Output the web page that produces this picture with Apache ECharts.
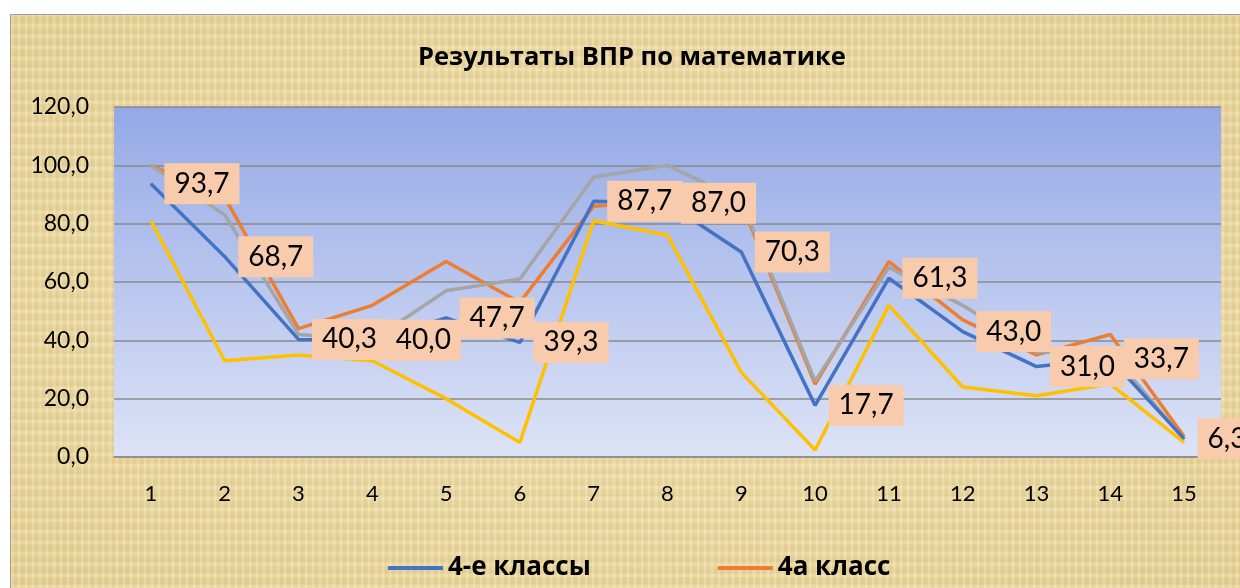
<!DOCTYPE html>
<html>
<head>
<meta charset="utf-8">
<script src="https://cdn.jsdelivr.net/npm/echarts@6/dist/echarts.min.js"></script>
<style>
  html, body { margin: 0; padding: 0; background: #ffffff; }
  #c {
    position: absolute; left: 10px; top: 14px; width: 1230px; height: 574px;
    border-top: 1px solid #a09c94; border-left: 1px solid #a09c94; box-sizing: border-box;
    background-color: #e7d39c;
    background-image:
      repeating-linear-gradient(90deg, rgba(255,245,210,0.25) 0px, rgba(255,245,210,0.25) 2px, rgba(190,160,90,0.10) 3px, rgba(255,245,210,0) 7px),
      repeating-linear-gradient(0deg, rgba(255,248,220,0.22) 0px, rgba(255,248,220,0.22) 3px, rgba(180,150,80,0.10) 4px, rgba(255,248,220,0) 11px),
      radial-gradient(ellipse at 50% 50%, #efdfae 0%, #e4cf94 100%);
  }
</style>
</head>
<body>
<div id="c"></div>
<script>
const categories = ['1','2','3','4','5','6','7','8','9','10','11','12','13','14','15'];
const yTicks = [0, 20, 40, 60, 80, 100, 120];
const seriesNames = ['4-е классы', '4а класс', '4б класс', '4в класс'];
const s4e = [93.7, 68.7, 40.3, 40.0, 47.7, 39.3, 87.7, 87.0, 70.3, 17.7, 61.3, 43.0, 31.0, 33.7, 6.3];
const s4a = [100, 89, 44, 52, 67, 53, 86, 88, 87, 25, 67, 47, 35, 42, 7];
const s4b = [100, 83, 42, 40, 57, 61, 96, 100, 88, 26, 65, 52, 36, 36, 6];
const s4v = [81, 33, 35, 33, 20, 5, 81, 76, 29, 2.4, 52, 24, 21, 25, 5];

const fmt = v => Number(v).toFixed(1).replace('.', ',');
const FONT = 'Lato, "Open Sans", sans-serif';
const BFONT = '"Open Sans", Lato, sans-serif';

const chart = echarts.init(document.getElementById('c'), null, { renderer: 'canvas' });
const lineStyle = (c) => ({ color: c, width: 3.5 });
chart.setOption({
  animation: false,
  textStyle: { fontFamily: FONT },
  title: {
    text: 'Результаты ВПР по математике',
    left: 402, top: 25,
    textStyle: { fontFamily: BFONT, fontWeight: 'bold', fontSize: 25.5, color: '#000' }
  },
  legend: {
    data: [seriesNames[0], seriesNames[1]],
    left: 372, top: 535,
    itemWidth: 55, itemHeight: 4, itemGap: 127,
    icon: 'rect',
    textStyle: { fontFamily: BFONT, fontWeight: 'bold', fontSize: 26, color: '#000' }
  },
  grid: {
    left: 103, right: 19, top: 92, bottom: 131,
    show: true, borderWidth: 0,
    backgroundColor: new echarts.graphic.LinearGradient(0, 0, 0, 1, [
      { offset: 0, color: '#94a9e6' },
      { offset: 1, color: '#dde3f6' }
    ])
  },
  xAxis: {
    type: 'category', data: categories, boundaryGap: true,
    axisTick: { show: false },
    axisLine: { lineStyle: { color: '#8a8a8a', width: 1.5 } },
    axisLabel: { fontFamily: FONT, fontSize: 22, color: '#000', margin: 26 }
  },
  yAxis: {
    type: 'value', min: yTicks[0], max: yTicks[yTicks.length - 1], interval: yTicks[1] - yTicks[0],
    axisLine: { show: false }, axisTick: { show: false },
    splitLine: { lineStyle: { color: '#8a8a8a', width: 1.5 } },
    axisLabel: { fontFamily: FONT, fontSize: 23, color: '#000', margin: 25, formatter: fmt }
  },
  series: [
    {
      name: seriesNames[0], type: 'line', data: s4e, showSymbol: true, symbol: 'circle', symbolSize: 1,
      lineStyle: lineStyle('#4472c4'), itemStyle: { color: '#4472c4' }, z: 10,
      label: {
        show: true, position: 'right', distance: 13,
        formatter: p => fmt(p.value),
        fontFamily: FONT, fontSize: 28, color: '#000',
        backgroundColor: '#f8cbad', padding: [7, 10, 6, 10]
      },
      labelLayout: { hideOverlap: false }
    },
    { name: seriesNames[1], type: 'line', data: s4a, showSymbol: false, symbol: 'none',
      lineStyle: lineStyle('#ed7d31'), itemStyle: { color: '#ed7d31' }, z: 3 },
    { name: seriesNames[2], type: 'line', data: s4b, showSymbol: false, symbol: 'none',
      lineStyle: lineStyle('#a5a5a5'), itemStyle: { color: '#a5a5a5' }, z: 4 },
    { name: seriesNames[3], type: 'line', data: s4v, showSymbol: false, symbol: 'none',
      lineStyle: lineStyle('#ffc000'), itemStyle: { color: '#ffc000' }, z: 5 }
  ]
});
</script>
</body>
</html>
